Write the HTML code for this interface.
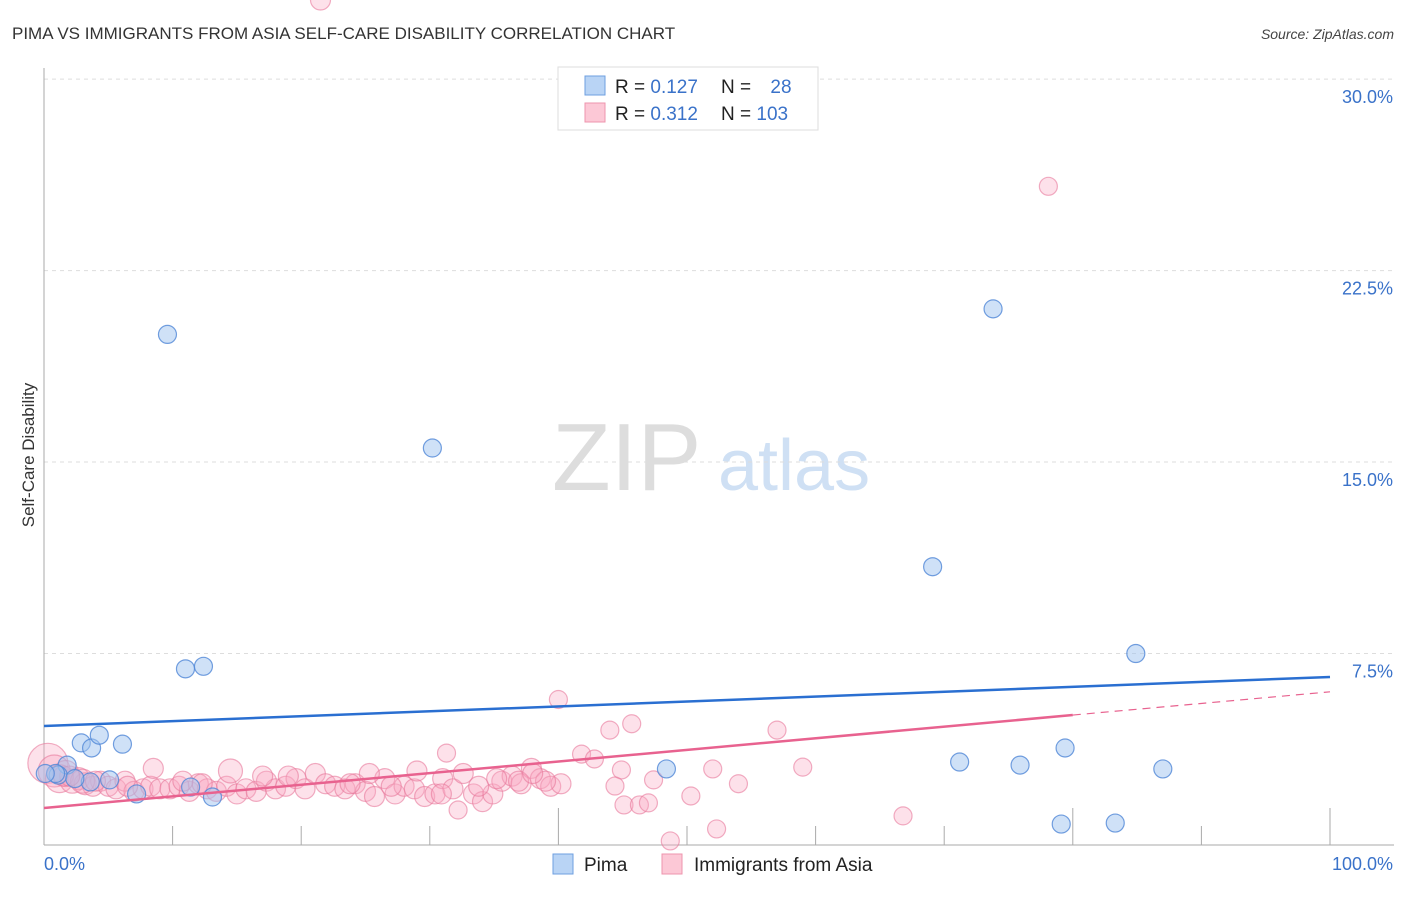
<!DOCTYPE html>
<html><head><meta charset="utf-8"><style>
body{margin:0;background:#fff;font-family:"Liberation Sans",sans-serif;}
svg text{font-family:"Liberation Sans",sans-serif;}
</style></head><body>
<svg id="chart" width="1406" height="892" xmlns="http://www.w3.org/2000/svg">
<text x="12" y="39" font-size="17" fill="#333">PIMA VS IMMIGRANTS FROM ASIA SELF-CARE DISABILITY CORRELATION CHART</text>
<text x="1394" y="39" font-size="14" fill="#444" font-style="italic" text-anchor="end">Source: ZipAtlas.com</text>
<text x="552" y="490" font-size="96" fill="#ddd" font-family="Liberation Serif, serif">ZIP</text>
<text x="718" y="490" font-size="72" fill="#cfe0f4">atlas</text>
<text transform="translate(34,455) rotate(-90)" font-size="17" fill="#333" text-anchor="middle">Self-Care Disability</text>
<g id="grid"></g><g id="axes"></g><g id="pts"></g><g id="lines"></g>
<g>
<rect x="558" y="67" width="260" height="63" fill="#fff" stroke="#ddd"/>
<rect x="585" y="76" width="20" height="19" fill="#b9d4f5" stroke="#6e9fe0"/>
<rect x="585" y="103" width="20" height="19" fill="#fcc8d6" stroke="#ee94ad"/>
<text x="615" y="93" font-size="19" fill="#222">R = <tspan fill="#3a72c9">0.127</tspan></text>
<text x="721" y="93" font-size="19" fill="#222">N = <tspan fill="#3a72c9" dx="14">28</tspan></text>
<text x="615" y="120" font-size="19" fill="#222">R = <tspan fill="#3a72c9">0.312</tspan></text>
<text x="721" y="120" font-size="19" fill="#222">N = <tspan fill="#3a72c9">103</tspan></text>
</g>
<g>
<rect x="553" y="854" width="20" height="20" fill="#b9d4f5" stroke="#6e9fe0"/>
<text x="584" y="871" font-size="19" fill="#222">Pima</text>
<rect x="662" y="854" width="20" height="20" fill="#fcc8d6" stroke="#ee94ad"/>
<text x="694" y="871" font-size="19" fill="#222">Immigrants from Asia</text>
</g>
</svg>
<script>
const yTicks=[7.5,15,22.5,30];
const yTickLabels=["7.5%","15.0%","22.5%","30.0%"];
const pimaX=[9.6,30.2,73.8,69.1,84.9,11.0,12.4,2.9,3.7,4.3,6.1,71.2,75.9,79.4,87.0,79.1,83.3,48.4,13.1,11.4,7.2,5.1,3.6,1.8,1.1,0.9,0.1,2.4];
const pimaY=[20.0,15.55,21.0,10.9,7.5,6.9,7.0,4.0,3.8,4.3,3.95,3.25,3.13,3.8,2.98,0.82,0.86,2.98,1.88,2.27,2.0,2.55,2.47,3.13,2.74,2.8,2.8,2.6];
const asiaX=[78.1,40.0,45.7,44.0,57.0,31.3,41.8,59.0,52.0,54.0,50.3,52.3,66.8,48.7,32.2,45.1,46.3,47.0,42.8,44.9,47.4,44.4,
0.3,0.8,1.2,1.7,2.2,2.7,3.2,3.8,4.4,5.0,5.6,6.3,7.0,7.7,8.3,9.0,9.8,10.5,11.3,12.0,12.7,13.4,14.2,15.0,15.7,16.5,17.3,18.0,18.8,19.6,20.3,21.1,21.9,22.6,23.4,24.2,25.0,25.7,26.5,27.3,28.0,28.8,29.6,30.4,31.0,31.8,32.6,33.4,34.1,34.9,35.6,36.4,37.1,37.9,38.6,39.4,40.2,1.5,3.0,6.5,10.8,14.5,19.0,23.8,27.0,30.9,33.8,36.9,39.0,4.0,8.5,17.0,25.3,29.0,35.2,38.0,2.0,12.3,21.5];
const asiaY=[25.8,5.7,4.75,4.5,4.5,3.6,3.56,3.05,2.98,2.4,1.92,0.63,1.14,0.16,1.37,1.57,1.57,1.65,3.37,2.94,2.55,2.31,
3.2,2.9,2.6,2.8,2.5,2.6,2.4,2.3,2.5,2.3,2.2,2.5,2.1,2.2,2.3,2.2,2.2,2.3,2.1,2.4,2.2,2.1,2.3,2.0,2.2,2.1,2.5,2.2,2.3,2.6,2.2,2.8,2.4,2.3,2.2,2.4,2.1,1.9,2.6,2.0,2.3,2.2,1.9,2.0,2.6,2.2,2.8,2.0,1.7,2.0,2.5,2.7,2.4,3.0,2.6,2.3,2.4,2.7,2.5,2.3,2.5,2.9,2.7,2.4,2.3,2.0,2.3,2.5,2.5,2.5,3.0,2.7,2.8,2.9,2.6,2.8,2.7,2.4];
const asiaR=[9,9,9,9,9,9,9,9,9,9,9,9,9,9,9,9,9,9,9,9,9,9,20,16,14,13,12,11,11,10,10,10,10,10,10,10,10,10,10,10,10,10,10,10,10,10,10,10,10,10,10,10,10,10,10,10,10,10,10,10,10,10,10,10,10,10,10,10,10,10,10,10,10,10,10,10,10,10,10,10,12,10,10,12,10,10,10,10,10,10,10,10,10,10,10,10,10,10,10,10,10,10,10];
const pimaLine=[4.66,6.58];
const asiaLine=[1.45,5.09,6.0];
const NS="http://www.w3.org/2000/svg";
const X0=44,X1=1330,Y0=845,PPY=25.53;
const sx=v=>X0+(X1-X0)*v/100, sy=v=>Y0-v*PPY;
function mk(tag,attrs,parent){const e=document.createElementNS(NS,tag);for(const k in attrs)e.setAttribute(k,attrs[k]);document.getElementById(parent).appendChild(e);return e;}
yTicks.forEach((t,i)=>{
 const g=mk('line',{x1:X0,x2:1394,y1:sy(t),y2:sy(t),stroke:'#ddd','stroke-dasharray':'4,4'},'grid');
 
 
 const l=mk('text',{x:1393,y:sy(t)+24,'font-size':18,fill:'#3a72c9','text-anchor':'end'},'grid');
 l.textContent=yTickLabels[i];
 
 
});
const ax=mk('line',{x1:X0,x2:1394,y1:Y0,y2:Y0,stroke:'#aaa'},'axes');


const ay=mk('line',{x1:X0,x2:X0,y1:68,y2:Y0,stroke:'#aaa'},'axes');


for(let i=0;i<=10;i++){
 const t=mk('line',{x1:sx(i*10),x2:sx(i*10),y1:(i%4==0||i==10)?808:826,y2:Y0,stroke:'#aaa'},'axes');
 
 
}
const xl0=mk('text',{x:44,y:870,'font-size':18,fill:'#3a72c9'},'axes');xl0.textContent='0.0%';


const xl1=mk('text',{x:1393,y:870,'font-size':18,fill:'#3a72c9','text-anchor':'end'},'axes');xl1.textContent='100.0%';


asiaX.forEach((v,i)=>{
 const c=mk('circle',{cx:sx(v),cy:sy(asiaY[i]),r:asiaR[i]||9,fill:'rgba(248,170,195,0.35)',stroke:'rgba(232,120,155,0.6)','stroke-width':1.2},'pts');
 
 
});
pimaX.forEach((v,i)=>{
 const c=mk('circle',{cx:sx(v),cy:sy(pimaY[i]),r:9,fill:'rgba(160,196,240,0.5)',stroke:'rgba(80,135,215,0.8)','stroke-width':1.2},'pts');
 
 
});
const pl=mk('line',{x1:sx(0),y1:sy(pimaLine[0]),x2:sx(100),y2:sy(pimaLine[1]),stroke:'#2a6fd1','stroke-width':2.5},'lines');


const al=mk('line',{x1:sx(0),y1:sy(asiaLine[0]),x2:sx(80),y2:sy(asiaLine[1]),stroke:'#e8628f','stroke-width':2.5},'lines');


const ad=mk('line',{x1:sx(80),y1:sy(asiaLine[1]),x2:sx(100),y2:sy(asiaLine[2]),stroke:'#e8628f','stroke-width':1.2,'stroke-dasharray':'8,6'},'lines');


</script>
</body></html>
